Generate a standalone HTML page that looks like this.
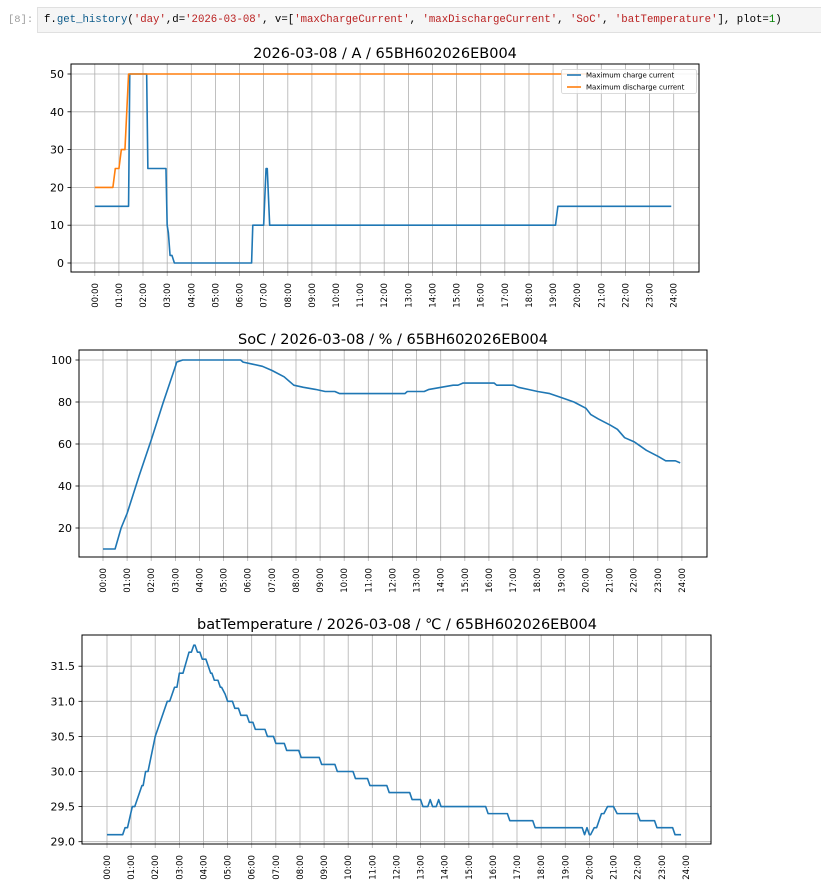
<!DOCTYPE html>
<html><head><meta charset="utf-8"><style>
html,body{margin:0;padding:0;background:#fff;width:821px;height:891px;overflow:hidden}
svg{display:block}
.t{font-family:"DejaVu Sans","Liberation Sans",sans-serif;fill:#000}
.g line{stroke:#b0b0b0;stroke-width:0.8}
.xt text{font-family:"DejaVu Sans",sans-serif;font-size:8.6px;fill:#000}
.yt{font-family:"DejaVu Sans",sans-serif;font-size:11px;fill:#000}
</style></head><body>
<svg width="821" height="891" viewBox="0 0 821 891" xmlns="http://www.w3.org/2000/svg">
<text x="8" y="22" font-family="Liberation Mono,monospace" font-size="10.5" fill="#9e9e9e">[8]:</text>
<rect x="37.5" y="7.5" width="790" height="25" fill="#f5f5f5" stroke="#e0e0e0"/>
<text x="44" y="22" font-family="Liberation Mono,monospace" font-size="10.7" xml:space="preserve"><tspan fill="#000">f.</tspan><tspan fill="#0b5a8a">get_history</tspan><tspan fill="#000">(</tspan><tspan fill="#ba2121">'day'</tspan><tspan fill="#000">,d=</tspan><tspan fill="#ba2121">'2026-03-08'</tspan><tspan fill="#000">, v=[</tspan><tspan fill="#ba2121">'maxChargeCurrent'</tspan><tspan fill="#000">, </tspan><tspan fill="#ba2121">'maxDischargeCurrent'</tspan><tspan fill="#000">, </tspan><tspan fill="#ba2121">'SoC'</tspan><tspan fill="#000">, </tspan><tspan fill="#ba2121">'batTemperature'</tspan><tspan fill="#000">], plot=</tspan><tspan fill="#008000">1</tspan><tspan fill="#000">)</tspan></text>

<text class="t" x="385" y="58" font-size="14.5" text-anchor="middle">2026-03-08 / A / 65BH602026EB004</text>
<g class="g">
<line x1="71" x2="699" y1="263" y2="263"/><line x1="71" x2="699" y1="225.2" y2="225.2"/><line x1="71" x2="699" y1="187.4" y2="187.4"/><line x1="71" x2="699" y1="149.6" y2="149.6"/><line x1="71" x2="699" y1="111.8" y2="111.8"/><line x1="71" x2="699" y1="74" y2="74"/>
</g>
<g class="g" transform="translate(94.8,0)">
<line x1="0" x2="0" y1="64" y2="276"/><line x1="24.1" x2="24.1" y1="64" y2="276"/><line x1="48.2" x2="48.2" y1="64" y2="276"/><line x1="72.4" x2="72.4" y1="64" y2="276"/><line x1="96.5" x2="96.5" y1="64" y2="276"/><line x1="120.6" x2="120.6" y1="64" y2="276"/><line x1="144.7" x2="144.7" y1="64" y2="276"/><line x1="168.8" x2="168.8" y1="64" y2="276"/><line x1="193" x2="193" y1="64" y2="276"/><line x1="217.1" x2="217.1" y1="64" y2="276"/><line x1="241.2" x2="241.2" y1="64" y2="276"/><line x1="265.3" x2="265.3" y1="64" y2="276"/><line x1="289.4" x2="289.4" y1="64" y2="276"/><line x1="313.6" x2="313.6" y1="64" y2="276"/><line x1="337.7" x2="337.7" y1="64" y2="276"/><line x1="361.8" x2="361.8" y1="64" y2="276"/><line x1="385.9" x2="385.9" y1="64" y2="276"/><line x1="410" x2="410" y1="64" y2="276"/><line x1="434.2" x2="434.2" y1="64" y2="276"/><line x1="458.3" x2="458.3" y1="64" y2="276"/><line x1="482.4" x2="482.4" y1="64" y2="276"/><line x1="506.5" x2="506.5" y1="64" y2="276"/><line x1="530.6" x2="530.6" y1="64" y2="276"/><line x1="554.8" x2="554.8" y1="64" y2="276"/><line x1="578.9" x2="578.9" y1="64" y2="276"/>
</g>
<g class="yt" text-anchor="end">
<text x="64" y="267">0</text><text x="64" y="229.2">10</text><text x="64" y="191.4">20</text><text x="64" y="153.6">30</text><text x="64" y="115.8">40</text><text x="64" y="78">50</text>
</g>
<g stroke="#000" stroke-width="0.8"><line x1="67.5" x2="71" y1="263" y2="263"/><line x1="67.5" x2="71" y1="225.2" y2="225.2"/><line x1="67.5" x2="71" y1="187.4" y2="187.4"/><line x1="67.5" x2="71" y1="149.6" y2="149.6"/><line x1="67.5" x2="71" y1="111.8" y2="111.8"/><line x1="67.5" x2="71" y1="74" y2="74"/></g>
<g class="xt" transform="translate(94.8,283)">
<text transform="translate(0,0) rotate(-90)" text-anchor="end" dy="0.35em">00:00</text><text transform="translate(24.1,0) rotate(-90)" text-anchor="end" dy="0.35em">01:00</text><text transform="translate(48.2,0) rotate(-90)" text-anchor="end" dy="0.35em">02:00</text><text transform="translate(72.4,0) rotate(-90)" text-anchor="end" dy="0.35em">03:00</text><text transform="translate(96.5,0) rotate(-90)" text-anchor="end" dy="0.35em">04:00</text><text transform="translate(120.6,0) rotate(-90)" text-anchor="end" dy="0.35em">05:00</text><text transform="translate(144.7,0) rotate(-90)" text-anchor="end" dy="0.35em">06:00</text><text transform="translate(168.8,0) rotate(-90)" text-anchor="end" dy="0.35em">07:00</text><text transform="translate(193,0) rotate(-90)" text-anchor="end" dy="0.35em">08:00</text><text transform="translate(217.1,0) rotate(-90)" text-anchor="end" dy="0.35em">09:00</text><text transform="translate(241.2,0) rotate(-90)" text-anchor="end" dy="0.35em">10:00</text><text transform="translate(265.3,0) rotate(-90)" text-anchor="end" dy="0.35em">11:00</text><text transform="translate(289.4,0) rotate(-90)" text-anchor="end" dy="0.35em">12:00</text><text transform="translate(313.6,0) rotate(-90)" text-anchor="end" dy="0.35em">13:00</text><text transform="translate(337.7,0) rotate(-90)" text-anchor="end" dy="0.35em">14:00</text><text transform="translate(361.8,0) rotate(-90)" text-anchor="end" dy="0.35em">15:00</text><text transform="translate(385.9,0) rotate(-90)" text-anchor="end" dy="0.35em">16:00</text><text transform="translate(410,0) rotate(-90)" text-anchor="end" dy="0.35em">17:00</text><text transform="translate(434.2,0) rotate(-90)" text-anchor="end" dy="0.35em">18:00</text><text transform="translate(458.3,0) rotate(-90)" text-anchor="end" dy="0.35em">19:00</text><text transform="translate(482.4,0) rotate(-90)" text-anchor="end" dy="0.35em">20:00</text><text transform="translate(506.5,0) rotate(-90)" text-anchor="end" dy="0.35em">21:00</text><text transform="translate(530.6,0) rotate(-90)" text-anchor="end" dy="0.35em">22:00</text><text transform="translate(554.8,0) rotate(-90)" text-anchor="end" dy="0.35em">23:00</text><text transform="translate(578.9,0) rotate(-90)" text-anchor="end" dy="0.35em">24:00</text>
</g>
<g transform="matrix(24.12 0 0 -3.78 94.8 263)" fill="none" stroke-width="1.6" stroke-linejoin="round">
<polyline vector-effect="non-scaling-stroke" stroke="#1f77b4" points="0,15 1.4,15 1.45,50 2.15,50 2.2,25 2.95,25 3.0,10 3.05,8 3.12,2 3.2,2 3.3,0 6.5,0 6.55,10 7.0,10 7.1,25 7.15,25 7.25,10 19.1,10 19.2,15 23.9,15"/>
<polyline vector-effect="non-scaling-stroke" stroke="#ff7f0e" points="0,20 0.75,20 0.85,25 1.0,25 1.1,30 1.25,30 1.4,50 20.5,50"/>
</g>
<rect x="71" y="64" width="628" height="208" fill="none" stroke="#000" stroke-width="1"/>
<rect x="561.5" y="69.5" width="135" height="24" rx="2" fill="#fff" fill-opacity="0.85" stroke="#d0d0d0" stroke-width="0.8"/>
<line x1="567" x2="581" y1="75" y2="75" stroke="#1f77b4" stroke-width="1.6"/>
<line x1="567" x2="581" y1="87" y2="87" stroke="#ff7f0e" stroke-width="1.6"/>
<text class="t" x="586" y="77.5" font-size="7">Maximum charge current</text>
<text class="t" x="586" y="89.5" font-size="7">Maximum discharge current</text>

<text class="t" x="393" y="344" font-size="14.5" text-anchor="middle">SoC / 2026-03-08 / % / 65BH602026EB004</text>
<g class="g">
<line x1="79" x2="707" y1="528" y2="528"/><line x1="79" x2="707" y1="486" y2="486"/><line x1="79" x2="707" y1="444" y2="444"/><line x1="79" x2="707" y1="402" y2="402"/><line x1="79" x2="707" y1="360" y2="360"/>
</g>
<g class="g" transform="translate(103,0)">
<line x1="0" x2="0" y1="350" y2="561"/><line x1="24.1" x2="24.1" y1="350" y2="561"/><line x1="48.2" x2="48.2" y1="350" y2="561"/><line x1="72.4" x2="72.4" y1="350" y2="561"/><line x1="96.5" x2="96.5" y1="350" y2="561"/><line x1="120.6" x2="120.6" y1="350" y2="561"/><line x1="144.7" x2="144.7" y1="350" y2="561"/><line x1="168.8" x2="168.8" y1="350" y2="561"/><line x1="193" x2="193" y1="350" y2="561"/><line x1="217.1" x2="217.1" y1="350" y2="561"/><line x1="241.2" x2="241.2" y1="350" y2="561"/><line x1="265.3" x2="265.3" y1="350" y2="561"/><line x1="289.4" x2="289.4" y1="350" y2="561"/><line x1="313.6" x2="313.6" y1="350" y2="561"/><line x1="337.7" x2="337.7" y1="350" y2="561"/><line x1="361.8" x2="361.8" y1="350" y2="561"/><line x1="385.9" x2="385.9" y1="350" y2="561"/><line x1="410" x2="410" y1="350" y2="561"/><line x1="434.2" x2="434.2" y1="350" y2="561"/><line x1="458.3" x2="458.3" y1="350" y2="561"/><line x1="482.4" x2="482.4" y1="350" y2="561"/><line x1="506.5" x2="506.5" y1="350" y2="561"/><line x1="530.6" x2="530.6" y1="350" y2="561"/><line x1="554.8" x2="554.8" y1="350" y2="561"/><line x1="578.9" x2="578.9" y1="350" y2="561"/>
</g>
<g class="yt" text-anchor="end">
<text x="72" y="532">20</text><text x="72" y="490">40</text><text x="72" y="448">60</text><text x="72" y="406">80</text><text x="72" y="364">100</text>
</g>
<g stroke="#000" stroke-width="0.8"><line x1="75.5" x2="79" y1="528" y2="528"/><line x1="75.5" x2="79" y1="486" y2="486"/><line x1="75.5" x2="79" y1="444" y2="444"/><line x1="75.5" x2="79" y1="402" y2="402"/><line x1="75.5" x2="79" y1="360" y2="360"/></g>
<g class="xt" transform="translate(103,568)">
<text transform="translate(0,0) rotate(-90)" text-anchor="end" dy="0.35em">00:00</text><text transform="translate(24.1,0) rotate(-90)" text-anchor="end" dy="0.35em">01:00</text><text transform="translate(48.2,0) rotate(-90)" text-anchor="end" dy="0.35em">02:00</text><text transform="translate(72.4,0) rotate(-90)" text-anchor="end" dy="0.35em">03:00</text><text transform="translate(96.5,0) rotate(-90)" text-anchor="end" dy="0.35em">04:00</text><text transform="translate(120.6,0) rotate(-90)" text-anchor="end" dy="0.35em">05:00</text><text transform="translate(144.7,0) rotate(-90)" text-anchor="end" dy="0.35em">06:00</text><text transform="translate(168.8,0) rotate(-90)" text-anchor="end" dy="0.35em">07:00</text><text transform="translate(193,0) rotate(-90)" text-anchor="end" dy="0.35em">08:00</text><text transform="translate(217.1,0) rotate(-90)" text-anchor="end" dy="0.35em">09:00</text><text transform="translate(241.2,0) rotate(-90)" text-anchor="end" dy="0.35em">10:00</text><text transform="translate(265.3,0) rotate(-90)" text-anchor="end" dy="0.35em">11:00</text><text transform="translate(289.4,0) rotate(-90)" text-anchor="end" dy="0.35em">12:00</text><text transform="translate(313.6,0) rotate(-90)" text-anchor="end" dy="0.35em">13:00</text><text transform="translate(337.7,0) rotate(-90)" text-anchor="end" dy="0.35em">14:00</text><text transform="translate(361.8,0) rotate(-90)" text-anchor="end" dy="0.35em">15:00</text><text transform="translate(385.9,0) rotate(-90)" text-anchor="end" dy="0.35em">16:00</text><text transform="translate(410,0) rotate(-90)" text-anchor="end" dy="0.35em">17:00</text><text transform="translate(434.2,0) rotate(-90)" text-anchor="end" dy="0.35em">18:00</text><text transform="translate(458.3,0) rotate(-90)" text-anchor="end" dy="0.35em">19:00</text><text transform="translate(482.4,0) rotate(-90)" text-anchor="end" dy="0.35em">20:00</text><text transform="translate(506.5,0) rotate(-90)" text-anchor="end" dy="0.35em">21:00</text><text transform="translate(530.6,0) rotate(-90)" text-anchor="end" dy="0.35em">22:00</text><text transform="translate(554.8,0) rotate(-90)" text-anchor="end" dy="0.35em">23:00</text><text transform="translate(578.9,0) rotate(-90)" text-anchor="end" dy="0.35em">24:00</text>
</g>
<g transform="matrix(24.15 0 0 -2.1 103 570)" fill="none" stroke-width="1.6" stroke-linejoin="round">
<polyline vector-effect="non-scaling-stroke" stroke="#1f77b4" points="0,10 0.5,10 0.75,20 1,27 1.5,45 2,62 2.5,80 3,97 3.05,99 3.3,100 5.7,100 5.8,99 6.2,98 6.6,97 7,95 7.5,92 7.9,88 8.3,87 8.8,86 9.2,85 9.6,85 9.8,84 12.5,84 12.6,85 13.3,85 13.5,86 14,87 14.5,88 14.7,88 14.9,89 16.2,89 16.3,88 17,88 17.2,87 17.6,86 18,85 18.5,84 19,82 19.5,80 20,77 20.2,74 20.5,72 21,69 21.3,67 21.6,63 22,61 22.5,57 23,54 23.3,52 23.7,52 23.9,51"/>
</g>
<rect x="79" y="350" width="628" height="207" fill="none" stroke="#000" stroke-width="1"/>

<text class="t" x="397" y="629" font-size="14.5" text-anchor="middle">batTemperature / 2026-03-08 / ℃ / 65BH602026EB004</text>
<g class="g">
<line x1="82" x2="711" y1="841.7" y2="841.7"/><line x1="82" x2="711" y1="806.6" y2="806.6"/><line x1="82" x2="711" y1="771.5" y2="771.5"/><line x1="82" x2="711" y1="736.4" y2="736.4"/><line x1="82" x2="711" y1="701.3" y2="701.3"/><line x1="82" x2="711" y1="666.2" y2="666.2"/>
</g>
<g class="g" transform="translate(107,0)">
<line x1="0" x2="0" y1="635" y2="848"/><line x1="24.1" x2="24.1" y1="635" y2="848"/><line x1="48.2" x2="48.2" y1="635" y2="848"/><line x1="72.4" x2="72.4" y1="635" y2="848"/><line x1="96.5" x2="96.5" y1="635" y2="848"/><line x1="120.6" x2="120.6" y1="635" y2="848"/><line x1="144.7" x2="144.7" y1="635" y2="848"/><line x1="168.8" x2="168.8" y1="635" y2="848"/><line x1="193" x2="193" y1="635" y2="848"/><line x1="217.1" x2="217.1" y1="635" y2="848"/><line x1="241.2" x2="241.2" y1="635" y2="848"/><line x1="265.3" x2="265.3" y1="635" y2="848"/><line x1="289.4" x2="289.4" y1="635" y2="848"/><line x1="313.6" x2="313.6" y1="635" y2="848"/><line x1="337.7" x2="337.7" y1="635" y2="848"/><line x1="361.8" x2="361.8" y1="635" y2="848"/><line x1="385.9" x2="385.9" y1="635" y2="848"/><line x1="410" x2="410" y1="635" y2="848"/><line x1="434.2" x2="434.2" y1="635" y2="848"/><line x1="458.3" x2="458.3" y1="635" y2="848"/><line x1="482.4" x2="482.4" y1="635" y2="848"/><line x1="506.5" x2="506.5" y1="635" y2="848"/><line x1="530.6" x2="530.6" y1="635" y2="848"/><line x1="554.8" x2="554.8" y1="635" y2="848"/><line x1="578.9" x2="578.9" y1="635" y2="848"/>
</g>
<g class="yt" text-anchor="end">
<text x="75" y="845.7">29.0</text><text x="75" y="810.6">29.5</text><text x="75" y="775.5">30.0</text><text x="75" y="740.4">30.5</text><text x="75" y="705.3">31.0</text><text x="75" y="670.2">31.5</text>
</g>
<g stroke="#000" stroke-width="0.8"><line x1="78.5" x2="82" y1="841.7" y2="841.7"/><line x1="78.5" x2="82" y1="806.6" y2="806.6"/><line x1="78.5" x2="82" y1="771.5" y2="771.5"/><line x1="78.5" x2="82" y1="736.4" y2="736.4"/><line x1="78.5" x2="82" y1="701.3" y2="701.3"/><line x1="78.5" x2="82" y1="666.2" y2="666.2"/></g>
<g class="xt" transform="translate(107,855)">
<text transform="translate(0,0) rotate(-90)" text-anchor="end" dy="0.35em">00:00</text><text transform="translate(24.1,0) rotate(-90)" text-anchor="end" dy="0.35em">01:00</text><text transform="translate(48.2,0) rotate(-90)" text-anchor="end" dy="0.35em">02:00</text><text transform="translate(72.4,0) rotate(-90)" text-anchor="end" dy="0.35em">03:00</text><text transform="translate(96.5,0) rotate(-90)" text-anchor="end" dy="0.35em">04:00</text><text transform="translate(120.6,0) rotate(-90)" text-anchor="end" dy="0.35em">05:00</text><text transform="translate(144.7,0) rotate(-90)" text-anchor="end" dy="0.35em">06:00</text><text transform="translate(168.8,0) rotate(-90)" text-anchor="end" dy="0.35em">07:00</text><text transform="translate(193,0) rotate(-90)" text-anchor="end" dy="0.35em">08:00</text><text transform="translate(217.1,0) rotate(-90)" text-anchor="end" dy="0.35em">09:00</text><text transform="translate(241.2,0) rotate(-90)" text-anchor="end" dy="0.35em">10:00</text><text transform="translate(265.3,0) rotate(-90)" text-anchor="end" dy="0.35em">11:00</text><text transform="translate(289.4,0) rotate(-90)" text-anchor="end" dy="0.35em">12:00</text><text transform="translate(313.6,0) rotate(-90)" text-anchor="end" dy="0.35em">13:00</text><text transform="translate(337.7,0) rotate(-90)" text-anchor="end" dy="0.35em">14:00</text><text transform="translate(361.8,0) rotate(-90)" text-anchor="end" dy="0.35em">15:00</text><text transform="translate(385.9,0) rotate(-90)" text-anchor="end" dy="0.35em">16:00</text><text transform="translate(410,0) rotate(-90)" text-anchor="end" dy="0.35em">17:00</text><text transform="translate(434.2,0) rotate(-90)" text-anchor="end" dy="0.35em">18:00</text><text transform="translate(458.3,0) rotate(-90)" text-anchor="end" dy="0.35em">19:00</text><text transform="translate(482.4,0) rotate(-90)" text-anchor="end" dy="0.35em">20:00</text><text transform="translate(506.5,0) rotate(-90)" text-anchor="end" dy="0.35em">21:00</text><text transform="translate(530.6,0) rotate(-90)" text-anchor="end" dy="0.35em">22:00</text><text transform="translate(554.8,0) rotate(-90)" text-anchor="end" dy="0.35em">23:00</text><text transform="translate(578.9,0) rotate(-90)" text-anchor="end" dy="0.35em">24:00</text>
</g>
<g transform="matrix(24.12 0 0 -70.2 107 2877.5)" fill="none" stroke-width="1.6" stroke-linejoin="round">
<polyline vector-effect="non-scaling-stroke" stroke="#1f77b4" points="0,29.1 0.65,29.1 0.75,29.2 0.85,29.2 1.05,29.5 1.15,29.5 1.45,29.8 1.5,29.8 1.6,30.0 1.7,30.0 2.0,30.5 2.5,31.0 2.6,31.0 2.8,31.2 2.9,31.2 3.0,31.4 3.15,31.4 3.4,31.7 3.5,31.7 3.6,31.8 3.65,31.8 3.75,31.7 3.85,31.7 3.95,31.6 4.1,31.6 4.2,31.5 4.3,31.4 4.35,31.4 4.45,31.3 4.6,31.3 4.7,31.2 4.75,31.2 4.9,31.1 5.0,31.0 5.2,31.0 5.3,30.9 5.45,30.9 5.55,30.8 5.8,30.8 5.9,30.7 6.05,30.7 6.15,30.6 6.55,30.6 6.65,30.5 6.9,30.5 7.0,30.4 7.35,30.4 7.45,30.3 7.95,30.3 8.05,30.2 8.8,30.2 8.9,30.1 9.45,30.1 9.55,30.0 10.2,30.0 10.3,29.9 10.8,29.9 10.9,29.8 11.6,29.8 11.7,29.7 12.55,29.7 12.65,29.6 13.0,29.6 13.1,29.5 13.3,29.5 13.4,29.6 13.5,29.5 13.65,29.5 13.75,29.6 13.85,29.5 15.7,29.5 15.8,29.4 16.6,29.4 16.7,29.3 17.65,29.3 17.75,29.2 19.7,29.2 19.8,29.1 19.9,29.2 20.0,29.1 20.05,29.1 20.2,29.2 20.3,29.2 20.5,29.4 20.6,29.4 20.75,29.5 21.0,29.5 21.15,29.4 22.0,29.4 22.1,29.3 22.7,29.3 22.8,29.2 23.45,29.2 23.55,29.1 23.8,29.1"/>
</g>
<rect x="82" y="635" width="629" height="209" fill="none" stroke="#000" stroke-width="1"/>
</svg>
</body></html>
